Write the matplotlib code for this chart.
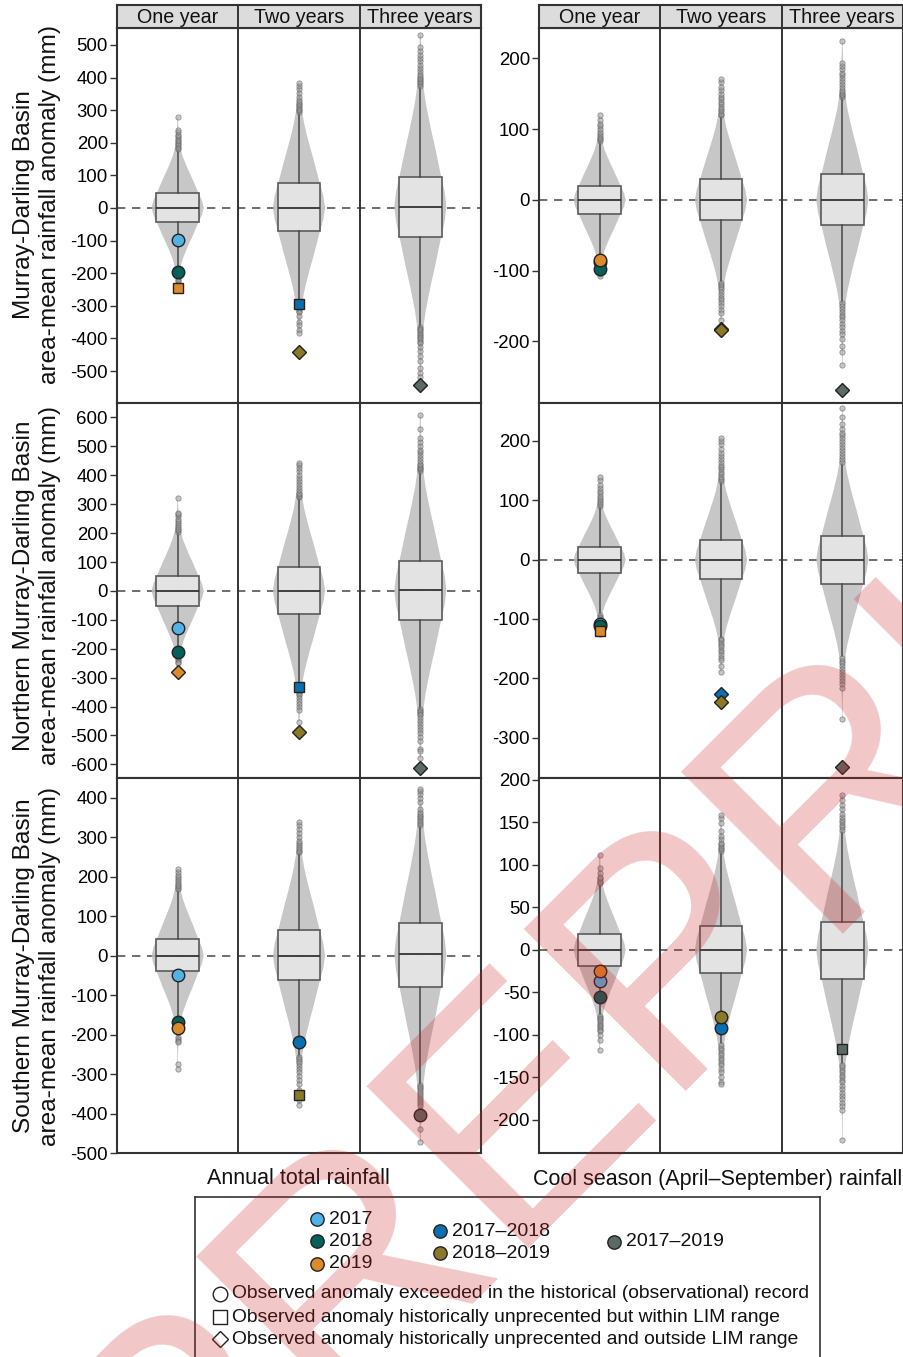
import numpy as np
import matplotlib
matplotlib.use('Agg')
import matplotlib.pyplot as plt

plt.rcParams['font.family'] = ['Liberation Sans', 'DejaVu Sans']
plt.rcParams['axes.unicode_minus'] = False

W, H = 904, 1357

# ---------------- data ----------------
PERIODS = ['One year', 'Two years', 'Three years']
REGION_LABELS = ['Murray-Darling Basin\narea-mean rainfall anomaly (mm)',
                 'Northern Murray-Darling Basin\narea-mean rainfall anomaly (mm)',
                 'Southern Murray-Darling Basin\narea-mean rainfall anomaly (mm)']
SEASONS = ['Annual total rainfall', 'Cool season (April–September) rainfall']

# panel order: MDB-annual, MDB-cool, North-annual, North-cool, South-annual, South-cool
MEDIAN = [[1, 1, 4], [0, 0, 0], [0, 1, 2], [0, 0, 0], [0, 0, 3], [0, 0, 0]]
Q1 = [[-44, -71, -89], [-20, -29, -36], [-52, -80, -100], [-22, -33, -41], [-40, -62, -80], [-19, -27, -34]]
Q3 = [[45, 76, 95], [20, 30, 37], [50, 82, 104], [22, 33, 40], [42, 65, 83], [19, 28, 33]]
WHISK_HI = [[178, 291, 372], [82, 118, 144], [200, 321, 413], [89, 131, 162], [165, 258, 329], [76, 114, 139]]
WHISK_LO = [[-190, -282, -364], [-80, -115, -144], [-215, -320, -406], [-90, -131, -162], [-202, -253, -325], [-76, -110, -133]]

FLIERS_HI = [
    [[180, 185, 190, 195, 200, 205, 210, 215, 220, 225, 232, 239, 279],
     [295, 300, 305, 310, 315, 320, 325, 331, 340, 352, 365, 375, 383],
     [375, 380, 385, 390, 395, 400, 405, 410, 420, 430, 440, 450, 460, 470, 480, 494, 531]],
    [[84, 86, 88, 90, 93, 96, 100, 104, 108, 113, 120],
     [120, 122, 125, 128, 131, 135, 138, 142, 146, 150, 155, 160, 166, 171],
     [146, 148, 150, 153, 156, 160, 164, 168, 172, 176, 180, 185, 190, 193, 224]],
    [[205, 210, 215, 220, 228, 235, 242, 250, 258, 265, 270, 323],
     [325, 330, 335, 340, 350, 360, 370, 380, 390, 400, 415, 425, 435, 444],
     [415, 420, 425, 430, 435, 440, 450, 460, 470, 480, 488, 500, 515, 530, 560, 609]],
    [[91, 94, 97, 100, 104, 108, 112, 116, 120, 126, 135, 139],
     [133, 136, 140, 144, 148, 152, 156, 160, 165, 170, 175, 180, 187, 195, 200, 205],
     [165, 170, 175, 180, 185, 190, 195, 200, 205, 210, 213, 220, 228, 240, 255]],
    [[168, 172, 176, 180, 185, 190, 195, 200, 205, 212, 219],
     [262, 266, 270, 275, 280, 285, 291, 300, 310, 320, 330, 339],
     [332, 336, 340, 345, 350, 355, 360, 365, 371, 390, 400, 410, 418, 422]],
    [[78, 80, 82, 84, 86, 90, 96, 112],
     [116, 118, 120, 122, 124, 126, 130, 134, 140, 149, 155, 159],
     [141, 144, 147, 150, 153, 156, 160, 165, 170, 176, 182]],
]
FLIERS_LO = [
    [[-195, -200, -205, -210, -215, -220, -225, -232],
     [-300, -305, -310, -315, -320, -330, -349, -360, -374, -383],
     [-366, -370, -375, -380, -385, -390, -395, -400, -405, -410, -415, -425, -440, -455, -470, -490, -505, -517]],
    [[-82, -84, -86, -88, -90, -93, -96, -100, -104, -108],
     [-117, -120, -123, -126, -130, -134, -138, -142, -146, -150, -155, -160, -170],
     [-146, -150, -154, -158, -162, -166, -170, -175, -180, -185, -190, -197, -207, -215, -233]],
    [[-220, -225, -230, -235, -240, -245, -250],
     [-340, -345, -350, -355, -360, -370, -380, -390, -400, -412, -452],
     [-410, -415, -420, -425, -430, -440, -450, -460, -470, -480, -490, -505, -520, -545, -555, -579]],
    [[-93, -96, -99, -102, -106, -110, -114, -118, -122, -125],
     [-133, -136, -140, -144, -148, -152, -156, -160, -165, -169, -180, -189],
     [-165, -170, -175, -180, -185, -190, -195, -200, -205, -210, -217, -269]],
    [[-205, -210, -215, -220, -274, -287],
     [-258, -263, -268, -273, -280, -287, -295, -305, -315, -325, -340, -355, -365, -378],
     [-328, -332, -336, -340, -345, -350, -355, -360, -365, -370, -375, -380, -390, -440, -471]],
    [[-78, -80, -82, -84, -86, -88, -90, -92, -94, -96, -100, -106, -118],
     [-112, -115, -118, -121, -124, -127, -130, -133, -136, -140, -144, -150, -155, -158],
     [-135, -138, -141, -144, -147, -150, -153, -156, -160, -164, -168, -172, -176, -180, -184, -188, -224]],
]

# shared violin width profile (distance from median in IQR units -> relative width)
PROFILE_U = [0, 0.25, 0.5, 0.75, 1.0, 1.25, 1.5, 1.75, 2.0, 2.25, 2.5, 3.0, 3.5, 4.0]
PROFILE_W = [1.0, 0.93, 0.80, 0.68, 0.56, 0.43, 0.31, 0.20, 0.12, 0.065, 0.038, 0.016, 0.007, 0.003]

# observed anomalies
OBS_PANEL = [0, 0, 0, 0, 0, 0,
             1, 1, 1, 1, 1, 1,
             2, 2, 2, 2, 2, 2,
             3, 3, 3, 3, 3, 3,
             4, 4, 4, 4, 4, 4,
             5, 5, 5, 5, 5, 5]
OBS_PERIOD = [0, 0, 0, 1, 1, 2,
              0, 0, 0, 1, 1, 2,
              0, 0, 0, 1, 1, 2,
              0, 0, 0, 1, 1, 2,
              0, 0, 0, 1, 1, 2,
              0, 0, 0, 1, 1, 2]
OBS_KEY = ['2017', '2018', '2019', '2017–2018', '2018–2019', '2017–2019',
           '2017', '2018', '2019', '2017–2018', '2018–2019', '2017–2019',
           '2017', '2018', '2019', '2017–2018', '2018–2019', '2017–2019',
           '2017', '2018', '2019', '2017–2018', '2018–2019', '2017–2019',
           '2017', '2018', '2019', '2017–2018', '2018–2019', '2017–2019',
           '2017', '2018', '2019', '2017–2018', '2018–2019', '2017–2019']
OBS_SHAPE = ['o', 'o', 's', 's', 'D', 'D',
             'o', 'o', 'o', 'D', 'D', 'D',
             'o', 'o', 'D', 's', 'D', 'D',
             'o', 'o', 's', 'D', 'D', 'D',
             'o', 'o', 'o', 'o', 's', 'o',
             'o', 'o', 'o', 'o', 'o', 's']
OBS_VALUE = [-98, -196, -245, -295, -442, -543,
             -88, -97, -85, -182, -184, -269,
             -127, -210, -281, -333, -489, -614,
             -108, -112, -120, -227, -240, -349,
             -49, -169, -184, -219, -354, -403,
             -37, -55, -25, -92, -79, -117]

KEY_COLORS = {'2017': '#52B2E6', '2018': '#03605B', '2019': '#DB8A2C',
              '2017–2018': '#0A6FB0', '2018–2019': '#8C7927', '2017–2019': '#5C6A65'}

YLIM = [(-598, 552), (-287, 243), (-647, 650), (-368, 264), (-500, 450), (-239, 202)]
YTICKS = [list(range(-500, 501, 100)), [-200, -100, 0, 100, 200],
          list(range(-600, 601, 100)), [-300, -200, -100, 0, 100, 200],
          list(range(-500, 401, 100)), list(range(-200, 201, 50))]

LEGEND_YEARS = ['2017', '2018', '2019', '2017–2018', '2018–2019', '2017–2019']
LEGEND_SHAPES = ['o', 's', 'D']
LEGEND_SHAPE_TEXT = ['Observed anomaly exceeded in the historical (observational) record',
                     'Observed anomaly historically unprecented but within LIM range',
                     'Observed anomaly historically unprecented and outside LIM range']

# ---------------- layout helpers ----------------
EDGE = '#333333'


def px_box(x0, y0, x1, y1):
    return [x0 / W, 1 - y1 / H, (x1 - x0) / W, (y1 - y0) / H]


BLOCK_X = [(117, 481), (539, 903)]
ROW_Y = [(28, 403), (403, 778), (778, 1153)]
MS = {'o': 9.0, 's': 7.8, 'D': 7.4}

fig = plt.figure(figsize=(W / 100, H / 100), dpi=100)


def violin_stats(med, q1, q3, lo, hi):
    iqr = q3 - q1
    up = [med + u * iqr for u in PROFILE_U if med + u * iqr < hi] + [hi]
    dn = [med - u * iqr for u in PROFILE_U[1:] if med - u * iqr > lo] + [lo]
    coords = np.array(sorted(dn + up), dtype=float)
    vals = np.interp(np.abs(coords - med) / iqr, PROFILE_U, PROFILE_W)
    return dict(coords=coords, vals=vals, mean=med, median=med, min=lo, max=hi)


for p in range(6):
    r, c = divmod(p, 2)
    x0, x1 = BLOCK_X[c]
    y0, y1 = ROW_Y[r]
    ax = fig.add_axes(px_box(x0, y0, x1, y1))
    ax.set_xlim(0.5, 3.5)
    ax.set_ylim(*YLIM[p])
    ax.set_yticks(YTICKS[p])
    ax.set_xticks([])
    ax.tick_params(axis='y', length=5, width=1.0, color=EDGE, labelsize=13.4, pad=1.5)
    ax.axhline(0, color='#555555', lw=1.2, ls=(0, (5, 4)), zorder=1)
    for k in range(3):
        lo = min(FLIERS_LO[p][k])
        hi = max(FLIERS_HI[p][k])
        vs = violin_stats(MEDIAN[p][k], Q1[p][k], Q3[p][k], lo, hi)
        parts = ax.violin([vs], positions=[k + 1], widths=0.43, showmeans=False,
                          showextrema=False, showmedians=False)
        for body in parts['bodies']:
            body.set_facecolor('#bdbdbd')
            body.set_edgecolor('none')
            body.set_alpha(0.85)
            body.set_zorder(2)
        st = dict(med=MEDIAN[p][k], q1=Q1[p][k], q3=Q3[p][k],
                  whislo=WHISK_LO[p][k], whishi=WHISK_HI[p][k],
                  fliers=np.array(FLIERS_HI[p][k] + FLIERS_LO[p][k], dtype=float))
        ax.bxp([st], positions=[k + 1], widths=0.35, patch_artist=True, showcaps=False,
               manage_ticks=False, zorder=3,
               boxprops=dict(facecolor=(0.91, 0.91, 0.91, 0.88), edgecolor='#5a5a5a', linewidth=1.2),
               medianprops=dict(color='#333333', linewidth=1.3),
               whiskerprops=dict(color='#474747', linewidth=1.1),
               flierprops=dict(marker='o', markersize=3.8, markerfacecolor=(0.62, 0.62, 0.62, 0.55),
                               markeredgecolor=(0.35, 0.35, 0.35, 0.6), markeredgewidth=0.6))
    for i in range(len(OBS_PANEL)):
        if OBS_PANEL[i] != p:
            continue
        ax.plot([OBS_PERIOD[i] + 1], [OBS_VALUE[i]], ls='none', marker=OBS_SHAPE[i],
                ms=MS[OBS_SHAPE[i]], mfc=KEY_COLORS[OBS_KEY[i]], mec='#222222', mew=1.0, zorder=6)
    for b in (1.5, 2.5):
        ax.axvline(b, color=EDGE, lw=1.4, zorder=7)
    for s in ax.spines.values():
        s.set_color(EDGE)
        s.set_linewidth(1.5)

# strip headers
for c in range(2):
    x0, x1 = BLOCK_X[c]
    sax = fig.add_axes(px_box(x0, 5, x1, 28))
    sax.set_xlim(0.5, 3.5)
    sax.set_ylim(0, 1)
    sax.set_facecolor('#dcdcdc')
    sax.set_xticks([])
    sax.set_yticks([])
    for b in (1.5, 2.5):
        sax.axvline(b, color=EDGE, lw=1.4)
    for k, lab in enumerate(PERIODS):
        sax.text(k + 1, 0.47, lab, ha='center', va='center', fontsize=14.2, color='#111111')
    for s in sax.spines.values():
        s.set_color(EDGE)
        s.set_linewidth(1.5)

# y labels
for r, lab in enumerate(REGION_LABELS):
    yc = [205, 586, 966][r]
    fig.text(37 / W, 1 - yc / H, lab, rotation=90, ha='center', va='center',
             multialignment='center', fontsize=17.6, linespacing=1.2, color='#111111')

# season labels
for c, lab in enumerate(SEASONS):
    xc = [298, 718][c]
    fig.text(xc / W, 1 - 1179 / H, lab, ha='center', va='center', fontsize=15.5, color='#111111')

# legend
lax = fig.add_axes(px_box(195, 1197, 820, 1380))
lax.set_xlim(195, 820)
lax.set_ylim(1380, 1197)
lax.set_xticks([])
lax.set_yticks([])
for s in lax.spines.values():
    s.set_color(EDGE)
    s.set_linewidth(1.2)
LEG_POS = [(317, 1219), (317, 1241), (317, 1264), (440, 1231), (440, 1253), (614, 1242)]
for key, (lx, ly) in zip(LEGEND_YEARS, LEG_POS):
    lax.plot([lx], [ly], marker='o', ms=9.6, mfc=KEY_COLORS[key], mec='#222222', mew=1.0, ls='none')
    lax.text(lx + 12, ly, key, ha='left', va='center', fontsize=14, color='#111111')
for j, (shp, txt) in enumerate(zip(LEGEND_SHAPES, LEGEND_SHAPE_TEXT)):
    ly = [1294, 1317, 1339][j]
    lax.plot([220], [ly], marker=shp, ms={'o': 10.5, 's': 9.5, 'D': 8}[shp], mfc='white', mec='#222222',
             mew=1.0, ls='none')
    lax.text(232, ly, txt, ha='left', va='center', fontsize=13.9, color='#111111')

# watermark
fig.text(175 / W, 1 - 1575 / H, 'PREPRINT', fontsize=240, rotation=45, rotation_mode='anchor',
         ha='left', va='baseline', color=(0.8, 0.12, 0.12), alpha=0.25, zorder=100)

fig.savefig('out.png', dpi=100)
